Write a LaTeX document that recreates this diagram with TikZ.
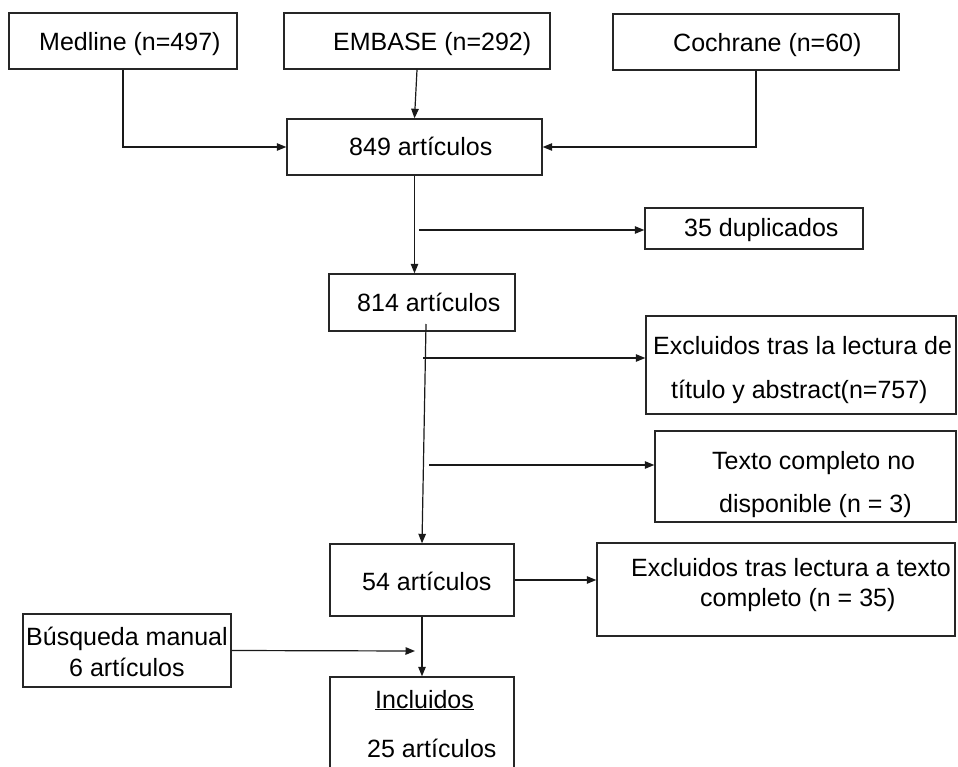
\documentclass[tikz,border=0pt]{standalone}
\usepackage{fontspec}
\setmainfont{Liberation Sans}
\usetikzlibrary{arrows.meta}
\begin{document}
\begin{tikzpicture}[x=1pt,y=-1pt,
  box/.style={draw=black!85, line width=1.4pt, inner sep=0pt, fill=none},
  lbl/.style={anchor=base west, inner sep=0pt, font=\fontsize{25}{30}\selectfont},
  arr/.style={line width=1.2pt, draw=black!90, -{Triangle[length=9.5pt,width=7.5pt]}}]
\useasboundingbox (0,0) rectangle (958,767);
% boxes
\node[box, minimum width=228, minimum height=56] (medline) at (123,41) {};
\node[box, minimum width=266, minimum height=56] (embase) at (417,41) {};
\node[box, minimum width=286, minimum height=56] (cochrane) at (756,42) {};
\node[box, minimum width=255, minimum height=56] (b849) at (414.5,147) {};
\node[box, minimum width=218, minimum height=41] (dup) at (754,228.5) {};
\node[box, minimum width=186, minimum height=57] (b814) at (422,302.5) {};
\node[box, minimum width=310, minimum height=98] (ex1) at (801,365) {};
\node[box, minimum width=301, minimum height=91] (txt) at (805.5,476.5) {};
\node[box, minimum width=184, minimum height=72] (b54) at (422,580) {};
\node[box, minimum width=358, minimum height=93] (ex3) at (776,589.5) {};
\node[box, minimum width=208, minimum height=73] (busq) at (127,650.5) {};
\node[box, minimum width=184, minimum height=123] (incl) at (422,738.5) {};
% texts
\node[lbl] (tmed) at (39,51) {Medline (n=497)};
\node[lbl] (temb) at (333,51) {EMBASE (n=292)};
\node[lbl] (tcoc) at (673,52) {Cochrane (n=60)};
\node[lbl] (t849) at (349,156) {849 artículos};
\node[lbl] (tdup) at (684,237) {35 duplicados};
\node[lbl] (t814) at (357,312) {814 artículos};
\node[lbl] (tex1a) at (653,354) {Excluidos tras la lectura de};
\node[lbl] (tex1b) at (671,398) {título y abstract(n=757)};
\node[lbl] (ttxta) at (712,469) {Texto completo no};
\node[lbl] (ttxtb) at (719,512) {disponible (n = 3)};
\node[lbl] (t54) at (362,590) {54 artículos};
\node[lbl] (tex3a) at (631,576) {Excluidos tras lectura a texto};
\node[lbl] (tex3b) at (700,606) {completo (n = 35)};
\node[lbl] (tbusa) at (26,645) {Búsqueda manual};
\node[lbl] (tbusb) at (69,676) {6 artículos};
\node[lbl] (tinca) at (375,708) {\underline{Incluidos}};
\node[lbl] (tincb) at (367,757) {25 artículos};
% connectors
\coordinate (d0) at (419,230);
\coordinate (s814) at (426,324);
\coordinate (e0) at (423,358);
\coordinate (t0) at (429,465);
\coordinate (m1) at (415,651);
\draw[arr] (medline.south) |- (b849.west);
\draw[arr] (embase.south) -- (b849.north);
\draw[arr] (cochrane.south) |- (b849.east);
\draw[arr] (b849.south) -- (b849.south |- b814.north);
\draw[arr] (d0) -- (d0 -| dup.west);
\draw[arr] (s814) -- (b54.north);
\draw[arr] (e0) -- (e0 -| ex1.west);
\draw[arr] (t0) -- (t0 -| txt.west);
\draw[arr] (b54.east) -- (b54.east -| ex3.west);
\draw[arr] (b54.south) -- (incl.north);
\draw[arr] (busq.east) -- (m1);
\end{tikzpicture}
\end{document}
